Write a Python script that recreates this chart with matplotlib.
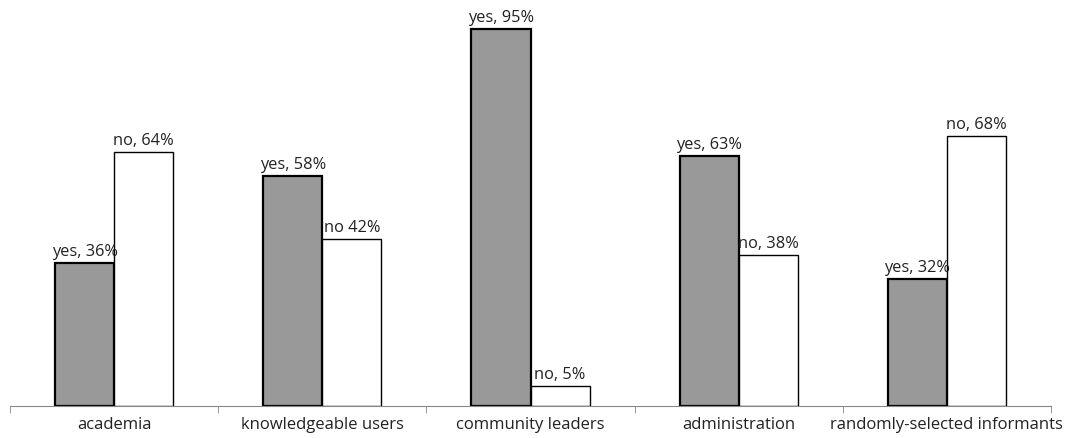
import numpy as np
import matplotlib.pyplot as plt

categories = ["academia", "knowledgeable users", "community leaders",
              "administration", "randomly-selected informants"]
yes_vals = [36, 58, 95, 63, 32]
no_vals = [64, 42, 5, 38, 68]
yes_labels = ["yes, 36%", "yes, 58%", "yes, 95%", "yes, 63%", "yes, 32%"]
no_labels = ["no, 64%", "no 42%", "no, 5%", "no, 38%", "no, 68%"]

plt.rcParams['font.family'] = ['Open Sans', 'DejaVu Sans']

fig = plt.figure(figsize=(10.73, 4.39), dpi=100)
ax = fig.add_axes([10/1073, 32/439, 1041/1073, 407/439])

x = np.arange(len(categories))
w = 0.284
b1 = ax.bar(x - w/2, yes_vals, w, color="#999999", edgecolor="black", linewidth=1.6)
b2 = ax.bar(x + w/2, no_vals, w, color="white", edgecolor="black", linewidth=1.0)

for rect, lab in zip(b1, yes_labels):
    ax.text(rect.get_x() + rect.get_width()/2, rect.get_height() + 1.0, lab,
            ha="center", va="bottom", fontsize=11.8, color="#222222")
for rect, lab in zip(b2, no_labels):
    ax.text(rect.get_x() + rect.get_width()/2, rect.get_height() + 1.0, lab,
            ha="center", va="bottom", fontsize=11.8, color="#222222")

ax.set_xlim(-0.5, len(categories) - 0.5)
ax.set_ylim(0, 102.5)
ax.set_yticks([])
ax.set_xticks(x)
ax.set_xticklabels(categories, fontsize=12, color="#222222")
ax.tick_params(axis="x", which="major", length=0, pad=7)
ax.set_xticks(np.arange(len(categories) + 1) - 0.5, minor=True)
ax.tick_params(axis="x", which="minor", length=5, color="#888888", direction="out")
for s in ["top", "right", "left"]:
    ax.spines[s].set_visible(False)
ax.spines["bottom"].set_color("#888888")

fig.savefig("out.png", dpi=100)
